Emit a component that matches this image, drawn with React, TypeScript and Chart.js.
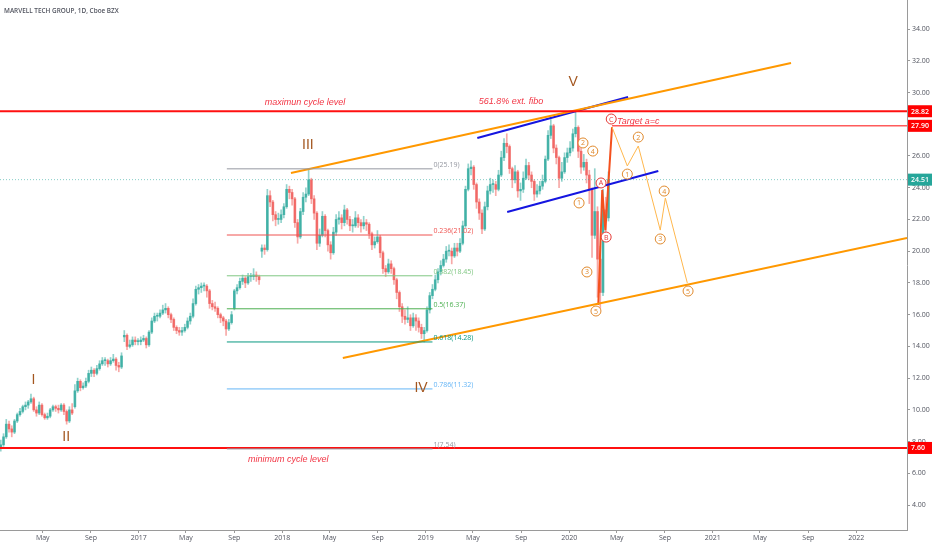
import { useEffect, useRef } from "react";
import { Chart, registerables } from "chart.js";

Chart.register(...registerables);

type Candle = [number, number, number, number]; // open, high, low, close

const chartTitle = "MARVELL TECH GROUP, 1D, Cboe BZX";

// weekly candles (Fridays) starting at this date
const candleStart = "2016-01-15";

const ohlc2016: Candle[] = [
  [7.6, 8.1, 7.4, 7.8], [7.8, 8.5, 7.7, 8.3], [8.3, 9.4, 8.2, 9.1], [9.1, 9.3, 8.6, 8.8],
  [8.8, 9.0, 8.3, 8.6], [8.6, 9.4, 8.5, 9.3], [9.3, 9.8, 9.2, 9.7], [9.7, 10.1, 9.6, 9.9],
  [9.9, 10.3, 9.8, 10.2], [10.2, 10.5, 10.0, 10.3], [10.3, 10.6, 10.1, 10.5], [10.5, 11.0, 10.4, 10.7],
  [10.7, 10.8, 9.9, 10.0], [10.0, 10.2, 9.6, 9.8], [9.8, 10.5, 9.7, 10.3], [10.3, 10.4, 9.6, 9.7],
  [9.7, 9.8, 9.4, 9.5], [9.5, 9.8, 9.4, 9.6], [9.6, 10.1, 9.5, 10.0], [10.0, 10.3, 9.9, 10.2],
  [10.2, 10.3, 9.9, 10.1], [10.1, 10.3, 9.8, 10.0], [10.0, 10.4, 9.9, 10.3], [10.3, 10.4, 9.7, 9.9],
  [9.9, 10.0, 9.1, 9.3], [9.3, 10.2, 9.2, 10.0], [10.0, 10.4, 9.7, 9.8], [10.2, 11.6, 10.1, 11.2],
  [11.2, 12.0, 11.1, 11.8], [11.8, 11.9, 11.2, 11.4], [11.4, 11.7, 11.3, 11.5], [11.5, 12.0, 11.4, 11.8],
  [11.8, 12.5, 11.7, 12.3], [12.3, 12.7, 12.1, 12.5], [12.5, 12.6, 12.1, 12.3], [12.3, 12.8, 12.2, 12.6],
  [12.6, 13.1, 12.5, 12.9], [12.9, 13.3, 12.8, 13.1], [13.1, 13.3, 12.8, 13.1], [13.1, 13.2, 12.7, 12.9],
  [12.9, 13.3, 12.8, 13.1], [13.1, 13.5, 13.0, 13.2], [13.2, 13.3, 12.5, 12.8], [12.8, 13.0, 12.4, 12.7],
  [12.7, 13.6, 12.6, 13.4], [14.6, 15.0, 14.3, 14.7], [14.7, 14.8, 13.8, 14.0], [14.0, 14.4, 13.9, 14.1],
  [14.1, 14.6, 14.0, 14.4], [14.4, 14.6, 14.1, 14.3], [14.3, 14.5, 14.1, 14.3],
];

const ohlc2017: Candle[] = [
  [14.3, 14.6, 14.1, 14.4], [14.4, 14.7, 14.3, 14.5], [14.5, 14.6, 13.9, 14.1], [14.1, 15.0, 14.0, 14.9],
  [14.9, 15.8, 14.8, 15.6], [15.6, 16.1, 15.5, 15.9], [15.9, 16.1, 15.6, 15.9], [15.9, 16.3, 15.8, 16.1],
  [16.1, 16.6, 16.0, 16.3], [16.3, 16.7, 16.1, 16.4], [16.4, 16.5, 15.8, 16.0], [16.0, 16.1, 15.5, 15.7],
  [15.7, 15.8, 15.0, 15.2], [15.2, 15.3, 14.8, 15.0], [15.0, 15.2, 14.7, 14.9], [14.9, 15.2, 14.7, 15.0],
  [15.0, 15.4, 14.9, 15.2], [15.2, 15.8, 15.1, 15.6], [15.6, 16.1, 15.4, 15.9], [15.9, 17.0, 15.8, 16.7],
  [16.7, 17.8, 16.6, 17.6], [17.6, 17.9, 17.3, 17.7], [17.7, 18.0, 17.4, 17.8], [17.8, 18.0, 17.5, 17.8],
  [17.8, 17.9, 17.1, 17.5], [17.5, 17.6, 16.4, 16.7], [16.7, 16.9, 16.3, 16.5], [16.5, 16.8, 16.2, 16.4],
  [16.4, 16.5, 15.8, 16.0], [16.0, 16.1, 15.5, 15.8], [15.8, 15.9, 15.3, 15.6], [15.6, 15.7, 14.7, 15.1],
  [15.1, 15.7, 15.0, 15.5], [15.5, 16.2, 15.4, 16.0], [16.4, 17.6, 16.3, 17.5], [17.5, 17.9, 17.3, 17.7],
  [17.7, 18.3, 17.6, 18.1], [18.1, 18.5, 17.9, 18.3], [18.3, 18.4, 17.7, 18.0], [18.0, 18.6, 17.9, 18.4],
  [18.4, 18.6, 18.1, 18.4], [18.4, 18.9, 18.2, 18.5], [18.5, 18.7, 18.1, 18.4], [18.4, 18.5, 17.9, 18.2],
  [20.0, 20.4, 19.6, 20.2], [20.2, 20.4, 19.8, 20.1], [20.1, 23.9, 20.0, 23.5], [23.5, 23.8, 22.8, 23.1],
  [23.1, 23.2, 21.9, 22.3], [22.3, 22.5, 21.6, 22.0], [22.0, 22.4, 21.7, 22.0], [22.0, 22.6, 21.8, 22.3],
];

const ohlc2018: Candle[] = [
  [22.3, 23.0, 22.1, 22.8], [22.8, 24.2, 22.7, 23.9], [23.9, 24.1, 23.3, 23.7], [23.7, 23.9, 22.9, 23.3],
  [23.3, 23.4, 21.5, 21.8], [21.8, 22.0, 20.5, 20.9], [20.9, 22.7, 20.8, 22.5], [22.5, 23.7, 22.3, 23.4],
  [23.4, 24.0, 23.1, 23.6], [23.6, 25.19, 23.5, 24.5], [24.5, 24.6, 23.0, 23.3], [23.3, 23.5, 22.0, 22.4],
  [22.4, 22.5, 20.1, 20.5], [20.5, 21.4, 20.3, 21.0], [21.0, 22.5, 20.9, 22.2], [22.2, 22.3, 20.9, 21.3],
  [21.3, 21.4, 20.0, 20.4], [20.4, 20.6, 19.5, 19.9], [19.9, 21.5, 19.8, 21.2], [21.2, 22.3, 21.0, 22.0],
  [22.0, 22.5, 21.7, 22.1], [22.1, 22.3, 21.4, 21.8], [21.8, 22.9, 21.6, 22.6], [22.6, 22.7, 21.7, 22.0],
  [22.0, 22.2, 21.3, 21.6], [21.6, 22.0, 21.2, 21.6], [21.6, 22.5, 21.5, 22.1], [22.1, 22.3, 21.5, 21.8],
  [21.8, 22.0, 21.2, 21.6], [21.6, 22.2, 21.4, 21.8], [21.8, 22.0, 21.3, 21.7], [21.7, 21.8, 20.8, 21.1],
  [21.1, 21.2, 20.1, 20.4], [20.4, 20.9, 20.2, 20.6], [20.6, 21.3, 20.5, 20.9], [20.9, 21.0, 19.6, 19.9],
  [19.9, 20.0, 18.6, 18.9], [18.9, 19.1, 18.4, 18.7], [18.7, 19.5, 18.6, 19.2], [19.2, 19.4, 18.6, 18.9],
  [18.9, 19.0, 17.9, 18.2], [18.2, 18.3, 17.0, 17.4], [17.4, 17.5, 16.2, 16.5], [16.5, 16.7, 15.5, 15.9],
  [15.9, 16.3, 15.4, 15.7], [15.7, 16.5, 15.5, 15.8], [15.8, 16.0, 15.0, 15.3], [15.3, 16.1, 15.2, 15.8],
  [15.8, 16.0, 15.0, 15.6], [15.6, 15.8, 14.9, 15.2], [15.2, 15.4, 14.5, 14.8], [14.8, 15.2, 14.28, 15.0],
];

const ohlc2019: Candle[] = [
  [15.0, 16.5, 14.9, 16.3], [16.3, 17.4, 16.1, 17.2], [17.2, 17.9, 17.0, 17.6], [17.6, 18.5, 17.5, 18.2],
  [18.2, 18.9, 18.0, 18.7], [18.7, 19.4, 18.5, 19.1], [19.1, 19.8, 19.0, 19.5], [19.5, 20.3, 19.3, 20.0],
  [20.0, 20.4, 19.7, 20.0], [20.0, 20.2, 19.2, 19.7], [19.7, 20.5, 19.6, 20.2], [20.2, 20.5, 19.7, 20.0],
  [20.0, 20.8, 19.9, 20.5], [20.5, 21.9, 20.4, 21.6], [21.6, 24.1, 21.5, 23.9], [23.9, 25.5, 23.8, 25.2],
  [25.2, 25.7, 24.8, 25.3], [25.3, 25.4, 23.9, 24.2], [24.2, 24.3, 22.7, 23.1], [23.1, 23.3, 22.0, 22.4],
  [22.4, 22.6, 21.1, 21.4], [21.4, 23.1, 21.3, 22.8], [22.8, 24.1, 22.6, 23.8], [23.8, 24.6, 23.6, 24.2],
  [24.2, 24.5, 23.7, 24.2], [24.2, 24.4, 23.5, 23.9], [23.9, 25.1, 23.8, 24.8], [24.8, 26.3, 24.7, 25.9],
  [25.9, 27.1, 25.7, 26.8], [26.8, 27.4, 26.2, 26.6], [26.6, 26.7, 24.9, 25.2], [25.2, 25.3, 24.0, 24.5],
  [24.5, 25.4, 24.3, 25.0], [25.0, 25.1, 23.4, 23.8], [23.8, 24.3, 23.2, 23.9], [23.9, 25.0, 23.7, 24.6],
  [24.6, 25.8, 24.5, 25.4], [25.4, 25.6, 24.5, 24.8], [24.8, 25.0, 24.0, 24.4], [24.4, 24.5, 23.2, 23.6],
  [23.6, 24.2, 23.4, 23.8], [23.8, 24.4, 23.6, 24.1], [24.1, 24.8, 23.9, 24.4], [24.4, 26.0, 24.3, 25.8],
  [25.8, 27.6, 25.7, 27.3], [27.3, 28.3, 27.1, 27.9], [27.9, 28.0, 26.2, 26.5], [26.5, 26.7, 25.5, 25.9],
  [25.9, 26.0, 24.0, 24.6], [24.6, 25.6, 24.4, 25.0], [25.0, 26.2, 24.9, 25.9], [25.9, 26.5, 25.6, 26.2],
];

const ohlc2020: Candle[] = [
  [26.2, 26.9, 26.0, 26.5], [26.5, 27.7, 26.3, 27.4], [27.4, 28.82, 27.2, 27.8], [27.8, 27.9, 25.9, 26.3],
  [26.3, 26.5, 24.9, 25.3], [25.3, 26.1, 25.1, 25.6], [25.6, 25.8, 24.3, 24.8], [24.8, 25.1, 23.0, 23.9],
  [23.9, 24.0, 19.6, 21.0], [21.0, 25.2, 20.8, 22.5], [22.5, 22.8, 17.1, 19.5], [19.5, 20.3, 16.4, 17.4],
  [17.4, 23.9, 17.2, 22.6], [22.6, 23.4, 20.9, 22.1], [22.1, 25.0, 21.9, 24.51],
];

// axis
const yMin = 2.43;
const yMax = 35.83;
const yTickValues = [4, 6, 8, 10, 12, 14, 16, 18, 20, 22, 24, 26, 28, 30, 32, 34];
const xStart = "2016-01-13";
const xEnd = "2022-05-10";
const xTickDates = [
  "2016-05-01", "2016-09-01", "2017-01-01", "2017-05-01", "2017-09-01", "2018-01-01",
  "2018-05-01", "2018-09-01", "2019-01-01", "2019-05-01", "2019-09-01", "2020-01-01",
  "2020-05-01", "2020-09-01", "2021-01-01", "2021-05-01", "2021-09-01", "2022-01-01",
];
const xTickLabels = [
  "May", "Sep", "2017", "May", "Sep", "2018", "May", "Sep", "2019", "May", "Sep", "2020",
  "May", "Sep", "2021", "May", "Sep", "2022",
];

// horizontal levels
const maxCycleLevel = 28.82;
const minCycleLevel = 7.6;
const targetLevel = 27.9;
const lastPrice = 24.51;
const targetStart = "2020-04-19";

// fibonacci retracement
const fibRatios = ["0", "0.236", "0.382", "0.5", "0.618", "0.786", "1"];
const fibPrices = [25.19, 21.02, 18.45, 16.37, 14.28, 11.32, 7.54];
const fibStart = "2017-08-13";
const fibEnd = "2019-01-18";

// trend channels
const orangeUpperDates = ["2018-01-23", "2021-07-19"];
const orangeUpperPrices = [24.93, 31.86];
const orangeLowerDates = ["2018-06-04", "2022-05-10"];
const orangeLowerPrices = [13.27, 20.83];
const blueUpperDates = ["2019-05-12", "2020-05-30"];
const blueUpperPrices = [27.13, 29.72];
const blueLowerDates = ["2019-07-27", "2020-08-15"];
const blueLowerPrices = [22.47, 25.05];

// wave paths
const abcDates = ["2020-03-15", "2020-03-25", "2020-04-02", "2020-04-19"];
const abcPrices = [16.61, 23.86, 21.33, 27.82];
const projDates = ["2020-04-19", "2020-05-28", "2020-06-25", "2020-08-20", "2020-09-02", "2020-10-28"];
const projPrices = [27.82, 25.37, 26.63, 21.33, 23.35, 18.0];

// wave labels
const degreeLabels = ["I", "II", "III", "IV", "V"];
const degreeDates = ["2016-04-07", "2016-06-30", "2018-03-07", "2018-12-20", "2020-01-11"];
const degreePrices = [11.88, 8.29, 26.69, 11.38, 30.66];

const countLabels = ["1", "2", "3", "4", "5", "A", "B", "C", "1", "2", "3", "4", "5"];
const countDates = [
  "2020-01-26", "2020-02-05", "2020-02-15", "2020-03-01", "2020-03-09", "2020-03-22", "2020-04-04",
  "2020-04-17", "2020-05-28", "2020-06-25", "2020-08-20", "2020-08-30", "2020-10-30",
];
const countPrices = [23.04, 26.82, 18.69, 26.31, 16.23, 24.3, 20.89, 28.33, 24.86, 27.19, 20.77, 23.79, 17.49];

const noteTexts = ["maximun cycle level", "561.8% ext. fibo", "minimum cycle level", "Target a=c"];
const noteDates = ["2018-02-28", "2019-08-06", "2018-01-16", "2020-05-02"];
const notePrices = [29.4, 29.46, 6.9, 28.2];

// ---------- helpers ----------
function fracYear(ms: number): number {
  const d = new Date(ms);
  const y = d.getUTCFullYear();
  const a = Date.UTC(y, 0, 1);
  const b = Date.UTC(y + 1, 0, 1);
  return y + (ms - a) / (b - a);
}
function fy(s: string): number {
  const [y, m, d] = s.split("-").map(Number);
  return fracYear(Date.UTC(y, m - 1, d));
}

const UP = "rgba(38,166,154,0.75)";
const DOWN = "rgba(239,83,80,0.75)";
const UP_WICK = "rgba(38,166,154,0.5)";
const DOWN_WICK = "rgba(239,83,80,0.5)";
const COUNT_ORANGE = "#e0892c";
const COUNT_RED = "#e53935";
const fibColors = ["#9598a1", "#ef5350", "#81c784", "#4caf50", "#089981", "#64b5f6", "#9598a1"];

const noPad = (s: any) => {
  s.paddingLeft = 0;
  s.paddingRight = 0;
  s.paddingTop = 0;
  s.paddingBottom = 0;
};

export default function App() {
  const ref = useRef<HTMLCanvasElement | null>(null);

  useEffect(() => {
    if (!ref.current) return;
    const candles: Candle[] = [...ohlc2016, ...ohlc2017, ...ohlc2018, ...ohlc2019, ...ohlc2020];
    const [sy, sm, sd] = candleStart.split("-").map(Number);
    const t0 = Date.UTC(sy, sm - 1, sd);
    const xs = candles.map((_, i) => fracYear(t0 + i * 7 * 86400000));
    const colors = candles.map((c) => (c[3] >= c[0] ? UP : DOWN));
    const wickColors = candles.map((c) => (c[3] >= c[0] ? UP_WICK : DOWN_WICK));

    const xMin = fy(xStart);
    const xMax = fy(xEnd);

    const seg = (dates: string[], prices: number[]) => dates.map((d, i) => ({ x: fy(d), y: prices[i] }));
    const hline = (y: number, from = xMin, to = xMax) => [
      { x: from, y },
      { x: to, y },
    ];
    const lineDs = (data: any[], color: string, width: number, extra: any = {}) => ({
      type: "line" as const,
      data,
      borderColor: color,
      borderWidth: width,
      pointRadius: 0,
      fill: false,
      tension: 0,
      order: 1,
      ...extra,
    });

    const datasets: any[] = [
      {
        type: "bar",
        data: candles.map((c, i) => ({ x: xs[i], y: [c[2], c[1]] })),
        backgroundColor: wickColors,
        barThickness: 1,
        grouped: false,
        order: 11,
      },
      {
        type: "bar",
        data: candles.map((c, i) => ({ x: xs[i], y: [Math.min(c[0], c[3]), Math.max(c[0], c[3])] })),
        backgroundColor: colors,
        barThickness: 2,
        minBarLength: 1,
        grouped: false,
        order: 10,
      },
      lineDs(hline(lastPrice), "rgba(38,166,154,0.55)", 1, { borderDash: [1, 2] }),
      ...fibPrices.map((p, i) => lineDs(hline(p, fy(fibStart), fy(fibEnd)), fibColors[i], 1)),
      lineDs(hline(maxCycleLevel), "#ff1010", 2),
      lineDs(hline(minCycleLevel), "#ff1010", 2),
      lineDs(hline(targetLevel, fy(targetStart)), "#ff5b5b", 1.5),
      lineDs(seg(orangeUpperDates, orangeUpperPrices), "#ff9800", 2),
      lineDs(seg(orangeLowerDates, orangeLowerPrices), "#ff9800", 2),
      lineDs(seg(blueUpperDates, blueUpperPrices), "#1515e0", 2),
      lineDs(seg(blueLowerDates, blueLowerPrices), "#1515e0", 2),
      lineDs(seg(projDates, projPrices), "#ffb74d", 1),
      lineDs(seg(abcDates, abcPrices), "#f4511e", 2),
      {
        type: "line",
        data: seg(countDates, countPrices),
        showLine: false,
        pointRadius: 5,
        pointBorderWidth: 1,
        pointBackgroundColor: "#ffffff",
        pointBorderColor: countLabels.map((l) => (/[ABC]/.test(l) ? COUNT_RED : COUNT_ORANGE)),
        order: 0,
        clip: false,
      },
    ];
    const countIndex = datasets.length - 1;

    const overlay = {
      id: "overlay",
      afterDraw(chart: any) {
        const { ctx } = chart;
        const x = chart.scales.x;
        const y = chart.scales.y;
        ctx.save();

        // title
        ctx.font = '600 6.4px "Open Sans", sans-serif';
        ctx.fillStyle = "#50535e";
        ctx.textAlign = "left";
        ctx.textBaseline = "middle";
        ctx.fillText(chartTitle, 4, 11);

        // fib labels
        ctx.font = '7px "Open Sans", sans-serif';
        const fx = x.getPixelForValue(fy(fibEnd)) + 1;
        fibPrices.forEach((p, i) => {
          ctx.fillStyle = fibColors[i];
          ctx.fillText(`${fibRatios[i]}(${p.toFixed(2)})`, fx, y.getPixelForValue(p) - 4);
        });

        // notes
        ctx.font = 'italic 9px "Liberation Sans", sans-serif';
        ctx.fillStyle = "#f23645";
        noteTexts.forEach((t, i) => {
          ctx.textAlign = i === 3 ? "left" : "center";
          ctx.fillText(t, x.getPixelForValue(fy(noteDates[i])), y.getPixelForValue(notePrices[i]));
        });

        // degree labels
        ctx.font = '14px "Liberation Sans", sans-serif';
        ctx.fillStyle = "#a3561f";
        ctx.textAlign = "center";
        degreeLabels.forEach((t, i) => {
          ctx.fillText(t, x.getPixelForValue(fy(degreeDates[i])), y.getPixelForValue(degreePrices[i]));
        });

        // count labels
        ctx.font = '7px "Open Sans", sans-serif';
        const meta = chart.getDatasetMeta(countIndex);
        meta.data.forEach((pt: any, i: number) => {
          const l = countLabels[i];
          ctx.fillStyle = /[ABC]/.test(l) ? COUNT_RED : COUNT_ORANGE;
          ctx.fillText(l, pt.x, pt.y + 0.5);
        });

        // price boxes on the axis
        const right = chart.chartArea.right;
        const box = (v: number, bg: string) => {
          const py = y.getPixelForValue(v);
          ctx.fillStyle = bg;
          ctx.fillRect(right + 1, py - 6, 932 - right - 1, 12);
          ctx.fillStyle = "#ffffff";
          ctx.font = '600 7px "Open Sans", sans-serif';
          ctx.textAlign = "left";
          ctx.fillText(v.toFixed(2), right + 4, py + 0.5);
        };
        box(maxCycleLevel, "#ff0000");
        box(targetLevel, "#ff0000");
        box(lastPrice, "#26a69a");
        box(minCycleLevel, "#ff0000");

        ctx.restore();
      },
    };

    const chart = new Chart(ref.current, {
      type: "bar",
      data: { datasets },
      options: {
        animation: false,
        responsive: true,
        maintainAspectRatio: false,
        layout: { padding: 0, autoPadding: false },
        plugins: { legend: { display: false }, tooltip: { enabled: false } },
        scales: {
          x: {
            type: "linear",
            min: xMin,
            max: xMax,
            offset: false,
            afterBuildTicks: (s: any) => {
              s.ticks = xTickDates.map((d) => ({ value: fy(d) }));
            },
            afterFit: (s: any) => {
              s.height = 20;
              noPad(s);
            },
            ticks: {
              autoSkip: false,
              maxRotation: 0,
              padding: 1,
              color: "#50535e",
              font: { size: 7, family: '"Open Sans", sans-serif' },
              callback: (v: any) => {
                const i = xTickDates.findIndex((d) => Math.abs(fy(d) - v) < 1e-6);
                return i >= 0 ? xTickLabels[i] : "";
              },
            },
            grid: { offset: false, drawOnChartArea: false, drawTicks: true, tickLength: 3, color: "#9a9a9a" },
            border: { display: true, color: "#9a9a9a" },
          },
          y: {
            type: "linear",
            position: "right",
            min: yMin,
            max: yMax,
            afterBuildTicks: (s: any) => {
              s.ticks = yTickValues.map((v) => ({ value: v }));
            },
            afterFit: (s: any) => {
              s.width = 25;
              noPad(s);
            },
            ticks: {
              padding: 2,
              color: "#50535e",
              font: { size: 7, family: '"Open Sans", sans-serif' },
              callback: (v: any) => Number(v).toFixed(2),
            },
            grid: { drawOnChartArea: false, drawTicks: true, tickLength: 3, color: "#9a9a9a" },
            border: { display: true, color: "#9a9a9a" },
          },
        },
      } as any,
      plugins: [overlay],
    });
    return () => chart.destroy();
  }, []);

  return (
    <div style={{ position: "absolute", left: 0, top: 0, width: 932, height: 550, background: "#fff" }}>
      <canvas ref={ref} />
    </div>
  );
}
